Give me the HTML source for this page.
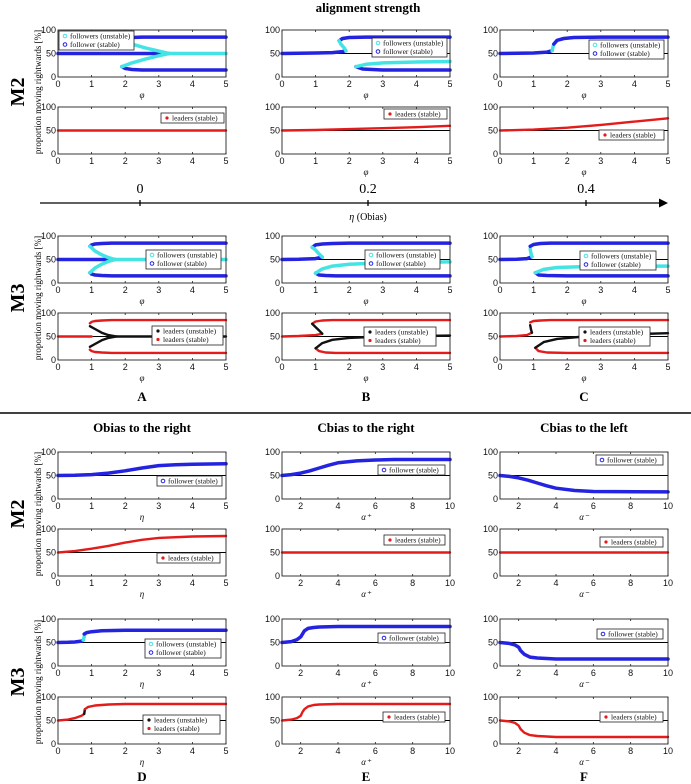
<!DOCTYPE html>
<html><head><meta charset="utf-8"><style>
html,body{margin:0;padding:0;background:#fff;width:691px;height:784px;overflow:hidden}
svg{display:block}
</style></head><body>
<svg id="fig" width="691" height="784" viewBox="0 0 691 784" xmlns="http://www.w3.org/2000/svg" font-family="Liberation Serif, serif">
<g font-weight="bold" font-size="13" text-anchor="middle">
<text x="368" y="12">alignment strength</text>
<text x="142" y="432">Obias to the right</text>
<text x="366" y="432">Cbias to the right</text>
<text x="584" y="432">Cbias to the left</text>
</g>
<g font-weight="bold" font-size="20" text-anchor="middle">
<text transform="translate(24,92) rotate(-90)">M2</text>
<text transform="translate(24,298) rotate(-90)">M3</text>
<text transform="translate(24,514) rotate(-90)">M2</text>
<text transform="translate(24,682) rotate(-90)">M3</text>
</g>
<g font-weight="bold" font-size="13" text-anchor="middle">
<text x="142" y="401">A</text>
<text x="366" y="401">B</text>
<text x="584" y="401">C</text>
<text x="142" y="781">D</text>
<text x="366" y="781">E</text>
<text x="584" y="781">F</text>
</g>
<line x1="0" y1="413" x2="691" y2="413" stroke="#000" stroke-width="1.5"/>
<g>
<line x1="40" y1="203" x2="660" y2="203" stroke="#000" stroke-width="1.3"/>
<polygon points="659,198.5 668,203 659,207.5" fill="#000"/>
<line x1="140" y1="200" x2="140" y2="206" stroke="#000" stroke-width="1.3"/>
<line x1="368" y1="200" x2="368" y2="206" stroke="#000" stroke-width="1.3"/>
<line x1="586" y1="200" x2="586" y2="206" stroke="#000" stroke-width="1.3"/>
<text x="140" y="193" font-size="14" text-anchor="middle">0</text>
<text x="368" y="193" font-size="14" text-anchor="middle">0.2</text>
<text x="586" y="193" font-size="14" text-anchor="middle">0.4</text>
<text x="368" y="220" font-size="10" text-anchor="middle"><tspan font-style="italic">η</tspan> (Obias)</text>
</g>
<g font-size="9" text-anchor="middle">
<text transform="translate(41,92) rotate(-90)">proportion moving rightwards [%]</text>
<text transform="translate(41,298) rotate(-90)">proportion moving rightwards [%]</text>
<text transform="translate(41,514) rotate(-90)">proportion moving rightwards [%]</text>
<text transform="translate(41,682) rotate(-90)">proportion moving rightwards [%]</text>
</g>
<g id="panels"></g>
</svg>
<script>
// ---- data (x values, y values in %) ----
const yTicks = [0, 50, 100];
const ticks05 = [0, 1, 2, 3, 4, 5];
const ticks110 = [2, 4, 6, 8, 10];
// A, M2
const aM2fsMidX=[0,3.3], aM2fsMidY=[50,50];
const aM2fsUpX=[1.9,2.0,2.2,2.5,3,5], aM2fsUpY=[78,82,84,85,85,85];
const aM2fsLoX=[1.9,2.0,2.2,2.5,3,5], aM2fsLoY=[22,18,16,15,15,15];
const aM2fuUpX=[1.9,2.2,2.6,3.0,3.3], aM2fuUpY=[78,70,62,55,50];
const aM2fuLoX=[1.9,2.2,2.6,3.0,3.3], aM2fuLoY=[22,30,38,45,50];
const aM2fuMidX=[3.3,5], aM2fuMidY=[50,50];
const aM2lsX=[0,5], aM2lsY=[50,50];
// B, M2
const bM2fsAX=[0,0.5,1,1.5,1.8,1.9], bM2fsAY=[50,50.5,51,52,54,56];
const bM2fuSX=[1.9,1.85,1.75,1.7], bM2fuSY=[56,62,70,77];
const bM2fsUpX=[1.7,1.8,2,2.5,3,5], bM2fsUpY=[77,82,84,85,85,85];
const bM2fsLoX=[2.2,2.4,3,5], bM2fsLoY=[22,17,15,15];
const bM2fuLoX=[2.2,2.5,3,4,5], bM2fuLoY=[22,27,30,32,33];
const bM2lsX=[0,1,2,3,4,5], bM2lsY=[50,51,53,55,57,60];
// C, M2
const cM2fsAX=[0,0.5,1,1.4,1.55], cM2fsAY=[50,50.5,51,53,56];
const cM2fuX=[1.55,1.6], cM2fuY=[56,70];
const cM2fsUpX=[1.6,1.7,1.9,2.2,3,5], cM2fsUpY=[70,78,82,84,85,85];
const cM2lsX=[0,1,2,3,4,5], cM2lsY=[50,52,56,62,69,76];
// A, M3
const aM3fsMidX=[0,1.7], aM3fsMidY=[50,50];
const aM3fsUpX=[0.95,1,1.1,1.3,1.6,5], aM3fsUpY=[78,81,83,84,85,85];
const aM3fsLoX=[0.95,1,1.1,1.3,1.6,5], aM3fsLoY=[22,19,17,16,15,15];
const aM3fuUpX=[0.95,1.1,1.3,1.5,1.7], aM3fuUpY=[78,68,60,54,50];
const aM3fuLoX=[0.95,1.1,1.3,1.5,1.7], aM3fuLoY=[22,32,40,46,50];
const aM3fuMidX=[1.7,5], aM3fuMidY=[50,50];
const aM3lsMidX=[0,1], aM3lsMidY=[50,50];
const aM3lsUpX=[0.95,1,1.1,1.3,1.6,5], aM3lsUpY=[78,81,83,84,85,85];
const aM3lsLoX=[0.95,1,1.1,1.3,1.6,5], aM3lsLoY=[22,19,17,16,15,15];
const aM3luUpX=[0.95,1.1,1.3,1.5,1.75], aM3luUpY=[72,66,58,53,50];
const aM3luLoX=[0.95,1.1,1.3,1.5,1.75], aM3luLoY=[28,34,42,47,50];
const aM3luMidX=[1.75,5], aM3luMidY=[50,50];
// B, M3
const bM3fsAX=[0,0.5,1,1.2], bM3fsAY=[50,50.5,52,55];
const bM3fuSX=[1.2,1.1,1,0.9], bM3fuSY=[55,62,70,76];
const bM3fsUpX=[0.9,1,1.2,1.5,2,5], bM3fsUpY=[76,81,83,84,85,85];
const bM3fsLoX=[1,1.1,1.3,1.6,2,5], bM3fsLoY=[21,17,16,15,15,15];
const bM3fuLoX=[1,1.2,1.5,2,3,5], bM3fuLoY=[21,30,36,40,43,45];
const bM3lsAX=[0,0.5,1,1.2], bM3lsAY=[50,51,53,56];
const bM3luSX=[1.2,1.1,1,0.9], bM3luSY=[56,63,70,77];
const bM3lsUpX=[0.9,1,1.2,1.5,2,5], bM3lsUpY=[77,82,84,85,85,85];
const bM3lsLoX=[1,1.1,1.3,1.6,2,5], bM3lsLoY=[25,19,16,15,15,15];
const bM3luLoX=[1,1.2,1.5,2,3,5], bM3luLoY=[25,36,43,47,50,52];
// C, M3
const cM3fsAX=[0,0.5,0.8,0.95], cM3fsAY=[50,50.5,52,56];
const cM3fuSX=[0.95,0.92,0.9], cM3fuSY=[56,64,72];
const cM3fsUpX=[0.9,1,1.2,1.5,5], cM3fsUpY=[78,82,84,85,85];
const cM3fsLoX=[1.05,1.15,1.4,2,5], cM3fsLoY=[22,17,16,15,15];
const cM3fuLoX=[1.05,1.3,1.7,2.5,3.5,5], cM3fuLoY=[22,29,33,35,36,36];
const cM3lsAX=[0,0.5,0.8,0.95], cM3lsAY=[50,51,53,58];
const cM3luSX=[0.95,0.92,0.9], cM3luSY=[58,66,74];
const cM3lsUpX=[0.9,1,1.2,1.5,5], cM3lsUpY=[80,83,84,85,85];
const cM3lsLoX=[1.05,1.15,1.4,2,5], cM3lsLoY=[26,19,16,15,15];
const cM3luLoX=[1.05,1.3,1.7,2.5,3.5,5], cM3luLoY=[26,38,45,50,54,57];
// D
const dM2fsX=[0,0.5,1,1.5,2,2.5,3,3.5,4,5], dM2fsY=[50,50.5,52,55,60,66,71,73,74,75];
const dM2lsX=[0,0.5,1,1.5,2,2.5,3,4,5], dM2lsY=[50,53,58,64,71,77,81,84,85];
const dM3fsAX=[0,0.3,0.5,0.7,0.75], dM3fsAY=[50,50.5,51,53,55];
const dM3fuX=[0.75,0.78,0.8], dM3fuY=[55,62,68];
const dM3fsBX=[0.78,0.85,1,1.3,2,5], dM3fsBY=[68,71,73,75,76,76];
const dM3lsAX=[0,0.3,0.5,0.7,0.78], dM3lsAY=[50,52,55,60,64];
const dM3luX=[0.78,0.8], dM3luY=[64,74];
const dM3lsBX=[0.8,0.9,1.1,1.5,2,5], dM3lsBY=[74,79,82,84,85,85];
// E
const eM2fsX=[1,1.5,2,2.5,3,3.5,4,5,6,7,10], eM2fsY=[50,52,55,60,66,72,77,81,83,84,84];
const eM2lsX=[1,10], eM2lsY=[50,50];
const eM3fsX=[1,1.5,1.8,2,2.1,2.2,2.4,2.7,3,4,10], eM3fsY=[50,52,56,62,68,75,80,82,83,84,84];
const eM3lsX=[1,1.5,1.8,2,2.1,2.2,2.4,2.7,3,4,10], eM3lsY=[50,52,55,60,68,74,80,83,84,85,85];
// F
const fM2fsX=[1,1.5,2,2.5,3,3.5,4,5,6,10], fM2fsY=[50,48,45,40,34,28,23,18,16,15];
const fM2lsX=[1,10], fM2lsY=[50,50];
const fM3fsX=[1,1.5,1.8,2,2.1,2.3,2.6,3,4,10], fM3fsY=[50,48,45,40,33,25,19,17,15,15];
const fM3lsX=[1,1.5,1.8,2,2.1,2.3,2.6,3,4,10], fM3lsY=[50,48,45,39,32,24,19,17,15,15];

// ---- layout ----
const NS="http://www.w3.org/2000/svg";
const colX=[58,282,500], rowY=[30,107,236,313,452,529,619,697], PW=168, PH=47;
const STY={fs:{c:"#2424e0",w:3.5,lbl:"follower (stable)"},fu:{c:"#45e4e4",w:3.5,lbl:"followers (unstable)"},
 ls:{c:"#e31b1b",w:2.4,lbl:"leaders (stable)"},lu:{c:"#111",w:2.4,lbl:"leaders (unstable)"}};
function mk(tag,attrs,parent){const e=document.createElementNS(NS,tag);for(const k in attrs)e.setAttribute(k,attrs[k]);parent.appendChild(e);return e;}
const S=(x,y,k)=>({x,y,k});
const panels=[
 {n:"a-m2-followers",c:0,r:0,d:[0,5],t:ticks05,xl:"φ",s:[S(aM2fsMidX,aM2fsMidY,"fs"),S(aM2fsUpX,aM2fsUpY,"fs"),S(aM2fsLoX,aM2fsLoY,"fs"),S(aM2fuUpX,aM2fuUpY,"fu"),S(aM2fuLoX,aM2fuLoY,"fu"),S(aM2fuMidX,aM2fuMidY,"fu")],lg:[1,1,75,["fu","fs"]]},
 {n:"a-m2-leaders",c:0,r:1,d:[0,5],t:ticks05,xl:"",s:[S(aM2lsX,aM2lsY,"ls")],lg:[103,6,63,["ls"]]},
 {n:"b-m2-followers",c:1,r:0,d:[0,5],t:ticks05,xl:"φ",s:[S(bM2fsAX,bM2fsAY,"fs"),S(bM2fsUpX,bM2fsUpY,"fs"),S(bM2fsLoX,bM2fsLoY,"fs"),S(bM2fuSX,bM2fuSY,"fu"),S(bM2fuLoX,bM2fuLoY,"fu")],lg:[90,8,75,["fu","fs"]]},
 {n:"b-m2-leaders",c:1,r:1,d:[0,5],t:ticks05,xl:"φ",s:[S(bM2lsX,bM2lsY,"ls")],lg:[102,2,63,["ls"]]},
 {n:"c-m2-followers",c:2,r:0,d:[0,5],t:ticks05,xl:"φ",s:[S(cM2fsAX,cM2fsAY,"fs"),S(cM2fuX,cM2fuY,"fu"),S(cM2fsUpX,cM2fsUpY,"fs")],lg:[89,10,75,["fu","fs"]]},
 {n:"c-m2-leaders",c:2,r:1,d:[0,5],t:ticks05,xl:"φ",s:[S(cM2lsX,cM2lsY,"ls")],lg:[99,23,65,["ls"]]},
 {n:"a-m3-followers",c:0,r:2,d:[0,5],t:ticks05,xl:"φ",s:[S(aM3fsMidX,aM3fsMidY,"fs"),S(aM3fsUpX,aM3fsUpY,"fs"),S(aM3fsLoX,aM3fsLoY,"fs"),S(aM3fuUpX,aM3fuUpY,"fu"),S(aM3fuLoX,aM3fuLoY,"fu"),S(aM3fuMidX,aM3fuMidY,"fu")],lg:[88,14,75,["fu","fs"]]},
 {n:"a-m3-leaders",c:0,r:3,d:[0,5],t:ticks05,xl:"φ",s:[S(aM3lsMidX,aM3lsMidY,"ls"),S(aM3lsUpX,aM3lsUpY,"ls"),S(aM3lsLoX,aM3lsLoY,"ls"),S(aM3luUpX,aM3luUpY,"lu"),S(aM3luLoX,aM3luLoY,"lu"),S(aM3luMidX,aM3luMidY,"lu")],lg:[94,13,71,["lu","ls"]]},
 {n:"b-m3-followers",c:1,r:2,d:[0,5],t:ticks05,xl:"φ",s:[S(bM3fsAX,bM3fsAY,"fs"),S(bM3fsUpX,bM3fsUpY,"fs"),S(bM3fsLoX,bM3fsLoY,"fs"),S(bM3fuSX,bM3fuSY,"fu"),S(bM3fuLoX,bM3fuLoY,"fu")],lg:[83,14,75,["fu","fs"]]},
 {n:"b-m3-leaders",c:1,r:3,d:[0,5],t:ticks05,xl:"φ",s:[S(bM3lsAX,bM3lsAY,"ls"),S(bM3lsUpX,bM3lsUpY,"ls"),S(bM3lsLoX,bM3lsLoY,"ls"),S(bM3luSX,bM3luSY,"lu"),S(bM3luLoX,bM3luLoY,"lu")],lg:[82,14,72,["lu","ls"]]},
 {n:"c-m3-followers",c:2,r:2,d:[0,5],t:ticks05,xl:"φ",s:[S(cM3fsAX,cM3fsAY,"fs"),S(cM3fuSX,cM3fuSY,"fu"),S(cM3fsUpX,cM3fsUpY,"fs"),S(cM3fsLoX,cM3fsLoY,"fs"),S(cM3fuLoX,cM3fuLoY,"fu")],lg:[80,15,76,["fu","fs"]]},
 {n:"c-m3-leaders",c:2,r:3,d:[0,5],t:ticks05,xl:"φ",s:[S(cM3lsAX,cM3lsAY,"ls"),S(cM3luSX,cM3luSY,"lu"),S(cM3lsUpX,cM3lsUpY,"ls"),S(cM3lsLoX,cM3lsLoY,"ls"),S(cM3luLoX,cM3luLoY,"lu")],lg:[79,14,71,["lu","ls"]]},
 {n:"d-m2-followers",c:0,r:4,d:[0,5],t:ticks05,xl:"η",s:[S(dM2fsX,dM2fsY,"fs")],lg:[99,24,65,["fs"]]},
 {n:"d-m2-leaders",c:0,r:5,d:[0,5],t:ticks05,xl:"η",s:[S(dM2lsX,dM2lsY,"ls")],lg:[99,24,63,["ls"]]},
 {n:"e-m2-followers",c:1,r:4,d:[1,10],t:ticks110,xl:"α⁺",s:[S(eM2fsX,eM2fsY,"fs")],lg:[96,13,67,["fs"]]},
 {n:"e-m2-leaders",c:1,r:5,d:[1,10],t:ticks110,xl:"α⁺",s:[S(eM2lsX,eM2lsY,"ls")],lg:[102,6,61,["ls"]]},
 {n:"f-m2-followers",c:2,r:4,d:[1,10],t:ticks110,xl:"α⁻",s:[S(fM2fsX,fM2fsY,"fs")],lg:[96,3,67,["fs"]]},
 {n:"f-m2-leaders",c:2,r:5,d:[1,10],t:ticks110,xl:"α⁻",s:[S(fM2lsX,fM2lsY,"ls")],lg:[100,8,63,["ls"]]},
 {n:"d-m3-followers",c:0,r:6,d:[0,5],t:ticks05,xl:"η",s:[S(dM3fsAX,dM3fsAY,"fs"),S(dM3fuX,dM3fuY,"fu"),S(dM3fsBX,dM3fsBY,"fs")],lg:[87,20,76,["fu","fs"]]},
 {n:"d-m3-leaders",c:0,r:7,d:[0,5],t:ticks05,xl:"η",s:[S(dM3lsAX,dM3lsAY,"ls"),S(dM3luX,dM3luY,"lu"),S(dM3lsBX,dM3lsBY,"ls")],lg:[85,18,77,["lu","ls"]]},
 {n:"e-m3-followers",c:1,r:6,d:[1,10],t:ticks110,xl:"α⁺",s:[S(eM3fsX,eM3fsY,"fs")],lg:[96,14,67,["fs"]]},
 {n:"e-m3-leaders",c:1,r:7,d:[1,10],t:ticks110,xl:"α⁺",s:[S(eM3lsX,eM3lsY,"ls")],lg:[101,15,62,["ls"]]},
 {n:"f-m3-followers",c:2,r:6,d:[1,10],t:ticks110,xl:"α⁻",s:[S(fM3fsX,fM3fsY,"fs")],lg:[97,10,66,["fs"]]},
 {n:"f-m3-leaders",c:2,r:7,d:[1,10],t:ticks110,xl:"α⁻",s:[S(fM3lsX,fM3lsY,"ls")],lg:[100,15,63,["ls"]]}
];
const root=document.getElementById("panels");
panels.forEach(p=>{
 const x0=colX[p.c], y0=rowY[p.r];
 const sx=v=>x0+(v-p.d[0])/(p.d[1]-p.d[0])*PW;
 const sy=v=>y0+PH-(v/100)*PH;
 const g=mk("g",{},root);
 
 
 mk("rect",{x:x0,y:y0,width:PW,height:PH,fill:"#fff"},g);
 const ref=mk("line",{x1:x0,x2:x0+PW,y1:sy(50),y2:sy(50),stroke:"#000","stroke-width":1},g);
 
 
 p.s.forEach(s=>{
  const st=STY[s.k];
  const pts=s.x.map((xv,i)=>sx(xv).toFixed(1)+","+sy(s.y[i]).toFixed(1)).join(" ");
  const pl=mk("polyline",{points:pts,fill:"none",stroke:st.c,"stroke-width":st.w,"stroke-linecap":"round","stroke-linejoin":"round"},g);
  
  
 });
 const fr=mk("rect",{x:x0,y:y0,width:PW,height:PH,fill:"none",stroke:"#222","stroke-width":0.9},g);
 
 
 p.t.forEach(tv=>{
  const X=sx(tv);
  mk("line",{x1:X,x2:X,y1:y0+PH,y2:y0+PH-2,stroke:"#222","stroke-width":0.8},g);
  mk("line",{x1:X,x2:X,y1:y0,y2:y0+2,stroke:"#222","stroke-width":0.8},g);
  const tl=mk("text",{x:X,y:y0+PH+10,"font-size":9,"font-family":"Liberation Sans, sans-serif","text-anchor":"middle",fill:"#111"},g);
  tl.textContent=tv;
  
  
 });
 yTicks.forEach(tv=>{
  const Y=sy(tv);
  const tl=mk("text",{x:x0-2,y:Y+3,"font-size":9,"font-family":"Liberation Sans, sans-serif","text-anchor":"end",fill:"#111"},g);
  tl.textContent=tv;
  
  
 });
 if(p.xl){
  const xl=mk("text",{x:x0+PW/2,y:y0+PH+21,"font-size":9,"font-style":"italic","text-anchor":"middle",fill:"#111"},g);
  xl.textContent=p.xl;
  
  
 }
 const [lx,ly,lw,ents]=p.lg;
 const h=ents.length===1?10:19;
 const lg=mk("g",{},g);
 
 
 mk("rect",{x:x0+lx,y:y0+ly,width:lw,height:h,fill:"#fff",stroke:"#222","stroke-width":0.8},lg);
 ents.forEach((k,i)=>{
  const cy=y0+ly+5+i*8.5;
  const st=STY[k];
  mk("circle",{cx:x0+lx+6,cy:cy,r:k[0]==="f"?1.8:1.1,fill:k[0]==="f"?"none":st.c,stroke:st.c,"stroke-width":1},lg);
  const t=mk("text",{x:x0+lx+11,y:cy+2.6,"font-size":7.5,fill:"#111"},lg);
  t.textContent=st.lbl;
  
  
 });
});
</script>
</body></html>
